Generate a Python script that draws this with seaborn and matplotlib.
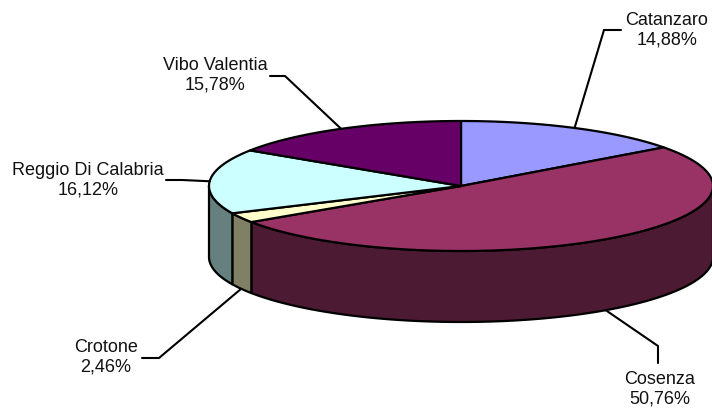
import numpy as np
import matplotlib
matplotlib.use("Agg")
import matplotlib.pyplot as plt
import seaborn as sns

categories = ["Catanzaro", "Cosenza", "Crotone", "Reggio Di Calabria", "Vibo Valentia"]
values = [14.88, 50.76, 2.46, 16.12, 15.78]
top_colors = ["#9999FF", "#993366", "#FFFFCC", "#CCFFFF", "#660066"]
side_colors = ["#4D4D80", "#4D1A33", "#808066", "#668080", "#330033"]
label_text = ["Catanzaro\n14,88%", "Cosenza\n50,76%", "Crotone\n2,46%",
              "Reggio Di Calabria\n16,12%", "Vibo Valentia\n15,78%"]
label_pos = [(667, 30), (660, 389), (106, 357), (88, 180), (215, 75)]
elbows = [[(604, 30), (621, 30)], [(658, 346), (658, 363)], [(159, 358), (142, 358)],
          [(182, 180), (166, 180)], [(285, 76), (270, 76)]]

sns.set_theme(style="white")
plt.rcParams["font.family"] = ["Liberation Sans", "DejaVu Sans"]

CX, CY, RX, RY, DEPTH = 461, 186, 252, 65, 71


def rim(t_deg, drop=0.0):
    t = np.radians(t_deg)
    return CX + RX * np.sin(t), CY - RY * np.cos(t) + drop


fig = plt.figure(figsize=(7.12, 4.11), dpi=100)
ax = fig.add_axes([0, 0, 1, 1])
ax.set_xlim(0, 712)
ax.set_ylim(411, 0)
ax.axis("off")

edges = np.concatenate([[0], np.cumsum(values)]) / np.sum(values) * 360
lw = 1.6

# side walls: only the front half (90..270 degrees) is visible
for a, b, col in zip(edges[:-1], edges[1:], side_colors):
    lo, hi = max(a, 90), min(b, 270)
    if lo >= hi:
        continue
    t = np.linspace(lo, hi, 80)
    xt, yt = rim(t)
    xb, yb = rim(t, DEPTH)
    ax.fill(np.r_[xt, xb[::-1]], np.r_[yt, yb[::-1]], facecolor=col,
            edgecolor="black", lw=lw, joinstyle="round", zorder=2)

# top face
for a, b, col in zip(edges[:-1], edges[1:], top_colors):
    t = np.linspace(a, b, 120)
    x, y = rim(t)
    ax.fill(np.r_[CX, x], np.r_[CY, y], facecolor=col,
            edgecolor="black", lw=lw, joinstyle="round", zorder=3)

# leader lines and labels
for a, b, elbow, txt, pos in zip(edges[:-1], edges[1:], elbows, label_text, label_pos):
    mid = (a + b) / 2
    drop = DEPTH if 90 < mid < 270 else 0
    x0, y0 = rim(mid, drop)
    ax.plot([x0, elbow[0][0], elbow[1][0]], [y0, elbow[0][1], elbow[1][1]],
            color="black", lw=1.5, zorder=4, solid_joinstyle="miter")
    ax.text(pos[0], pos[1], txt, ha="center", va="center", fontsize=13,
            color="#111111", linespacing=1.22, zorder=5)

fig.savefig("out.png", dpi=100, facecolor="white")
